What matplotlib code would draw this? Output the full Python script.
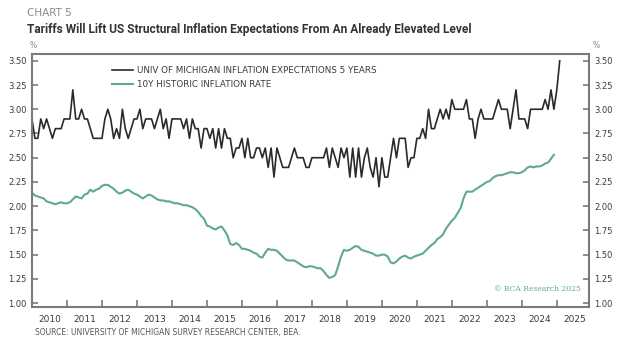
import numpy as np
import pandas as pd
import matplotlib
matplotlib.use("Agg")
import matplotlib.pyplot as plt

# monthly data, Jan 2010 onwards
umich_5y = [
    2.9, 2.7, 2.7, 2.9, 2.8, 2.9, 2.8, 2.7, 2.8, 2.8, 2.8, 2.9,  # 2010
    2.9, 2.9, 3.2, 2.9, 2.9, 3.0, 2.9, 2.9, 2.8, 2.7, 2.7, 2.7,  # 2011
    2.7, 2.9, 3.0, 2.9, 2.7, 2.8, 2.7, 3.0, 2.8, 2.7, 2.8, 2.9,  # 2012
    2.9, 3.0, 2.8, 2.9, 2.9, 2.9, 2.8, 2.9, 3.0, 2.8, 2.9, 2.7,  # 2013
    2.9, 2.9, 2.9, 2.9, 2.8, 2.9, 2.7, 2.9, 2.8, 2.8, 2.6, 2.8,  # 2014
    2.8, 2.7, 2.8, 2.6, 2.8, 2.6, 2.8, 2.7, 2.7, 2.5, 2.6, 2.6,  # 2015
    2.7, 2.5, 2.7, 2.5, 2.5, 2.6, 2.6, 2.5, 2.6, 2.4, 2.6, 2.3,  # 2016
    2.6, 2.5, 2.4, 2.4, 2.4, 2.5, 2.6, 2.5, 2.5, 2.5, 2.4, 2.4,  # 2017
    2.5, 2.5, 2.5, 2.5, 2.5, 2.6, 2.4, 2.6, 2.5, 2.4, 2.6, 2.5,  # 2018
    2.6, 2.3, 2.6, 2.3, 2.6, 2.3, 2.5, 2.6, 2.4, 2.3, 2.5, 2.2,  # 2019
    2.5, 2.3, 2.3, 2.5, 2.7, 2.5, 2.7, 2.7, 2.7, 2.4, 2.5, 2.5,  # 2020
    2.7, 2.7, 2.8, 2.7, 3.0, 2.8, 2.8, 2.9, 3.0, 2.9, 3.0, 2.9,  # 2021
    3.1, 3.0, 3.0, 3.0, 3.0, 3.1, 2.9, 2.9, 2.7, 2.9, 3.0, 2.9,  # 2022
    2.9, 2.9, 2.9, 3.0, 3.1, 3.0, 3.0, 3.0, 2.8, 3.0, 3.2, 2.9,  # 2023
    2.9, 2.9, 2.8, 3.0, 3.0, 3.0, 3.0, 3.0, 3.1, 3.0, 3.2, 3.0,  # 2024
    3.2, 3.5,                                                    # 2025
]

hist_10y = [
    2.14, 2.11, 2.10, 2.09, 2.08, 2.05, 2.04, 2.03, 2.02, 2.03, 2.04, 2.03,  # 2010
    2.03, 2.04, 2.07, 2.10, 2.09, 2.08, 2.12, 2.13, 2.17, 2.15, 2.17, 2.18,  # 2011
    2.21, 2.22, 2.22, 2.20, 2.18, 2.15, 2.13, 2.14, 2.16, 2.17, 2.15, 2.13,  # 2012
    2.12, 2.10, 2.08, 2.10, 2.12, 2.11, 2.09, 2.07, 2.06, 2.06, 2.05, 2.05,  # 2013
    2.04, 2.03, 2.03, 2.02, 2.01, 2.01, 2.00, 1.99, 1.97, 1.94, 1.90, 1.87,  # 2014
    1.80, 1.79, 1.77, 1.76, 1.78, 1.79, 1.75, 1.70, 1.61, 1.60, 1.62, 1.60,  # 2015
    1.56, 1.56, 1.55, 1.54, 1.52, 1.51, 1.48, 1.47, 1.52, 1.56, 1.55, 1.55,  # 2016
    1.54, 1.51, 1.48, 1.45, 1.44, 1.44, 1.44, 1.42, 1.40, 1.38, 1.37, 1.38,  # 2017
    1.38, 1.37, 1.36, 1.36, 1.33, 1.29, 1.26, 1.27, 1.29, 1.38, 1.48, 1.55,  # 2018
    1.54, 1.55, 1.57, 1.59, 1.58, 1.55, 1.54, 1.53, 1.52, 1.51, 1.49, 1.49,  # 2019
    1.50, 1.50, 1.48, 1.42, 1.41, 1.43, 1.46, 1.48, 1.49, 1.47, 1.46, 1.48,  # 2020
    1.49, 1.50, 1.51, 1.54, 1.57, 1.60, 1.62, 1.66, 1.68, 1.71, 1.77, 1.81,  # 2021
    1.85, 1.88, 1.93, 1.98, 2.08, 2.15, 2.15, 2.15, 2.17, 2.19, 2.21, 2.23,  # 2022
    2.25, 2.26, 2.29, 2.31, 2.32, 2.32, 2.33, 2.34, 2.35, 2.35, 2.34, 2.34,  # 2023
    2.35, 2.37, 2.40, 2.41, 2.40, 2.41, 2.41, 2.42, 2.44, 2.45, 2.49, 2.53,  # 2024
]

years = list(range(2010, 2026))
yticks = [1.00, 1.25, 1.50, 1.75, 2.00, 2.25, 2.50, 2.75, 3.00, 3.25, 3.50]

dark = "#2a2a2a"
teal = "#5fa898"
grey = "#7a7a7a"
txt = "#3a3a3a"

def decimal_dates(n):
    idx = pd.date_range("2010-01-01", periods=n, freq="MS")
    return idx.year + (idx.month - 1) / 12

fig = plt.figure(figsize=(6.2, 3.41), dpi=100)
ax = fig.add_axes([32 / 620, 34 / 341, 557 / 620, 253 / 341])

ax.plot(decimal_dates(len(umich_5y)), umich_5y, color=dark, lw=1.2,
        label="UNIV OF MICHIGAN INFLATION EXPECTATIONS 5 YEARS")
ax.plot(decimal_dates(len(hist_10y)), hist_10y, color=teal, lw=1.5,
        label="10Y HISTORIC INFLATION RATE")

ax.set_xlim(2010.0, 2025.92)
ax.set_ylim(0.96, 3.57)

# year boundaries as ticks, labels centred on each year
ax.set_xticks(years[1:])
ax.set_xticklabels([])
ax.set_xticks([y + 0.5 for y in years], minor=True)
ax.set_xticklabels([str(y) for y in years], minor=True)
ax.tick_params(axis="x", which="major", direction="in", length=5, width=1.2, color=grey)
ax.tick_params(axis="x", which="minor", length=0, pad=6, labelsize=6.5, labelcolor=txt)

ax.set_yticks(yticks)
ax.set_yticklabels([f"{v:.2f}" for v in yticks])
ax.tick_params(axis="y", direction="in", length=4, width=1.2, color=grey,
               labelsize=6, labelcolor=txt, left=True, right=True,
               labelleft=True, labelright=True, pad=4)

for s in ax.spines.values():
    s.set_color(grey)
    s.set_linewidth(1.5)

leg = ax.legend(loc="upper left", bbox_to_anchor=(0.138, 0.965), frameon=False,
                fontsize=6.3, handlelength=2.4, handletextpad=0.45, labelspacing=0.55,
                borderaxespad=0)
for t in leg.get_texts():
    t.set_color(txt)

fig.text(27 / 620, 1 - 13 / 341, "CHART 5", fontsize=7.5, color="#8a8a8a", va="center")
fig.text(27 / 620, 1 - 30 / 341,
         "Tariffs Will Lift US Structural Inflation Expectations From An Already Elevated Level",
         fontsize=8.6, color="#333333", va="center", fontweight="bold", family="Roboto")
fig.text(30 / 620, 1 - 46 / 341, "%", fontsize=5.5, color="#8a8a8a", va="center")
fig.text(593 / 620, 1 - 46 / 341, "%", fontsize=5.5, color="#8a8a8a", va="center")
fig.text(35 / 620, 1 - 333 / 341, "SOURCE: UNIVERSITY OF MICHIGAN SURVEY RESEARCH CENTER, BEA.",
         fontsize=5.5, color="#555555", va="center")
ax.text(0.986, 0.07, "\u00a9 BCA Research 2025", transform=ax.transAxes,
        fontsize=5.5, color=teal, ha="right", va="center", family="DejaVu Serif")

fig.savefig("out.png", dpi=100, facecolor="white")
